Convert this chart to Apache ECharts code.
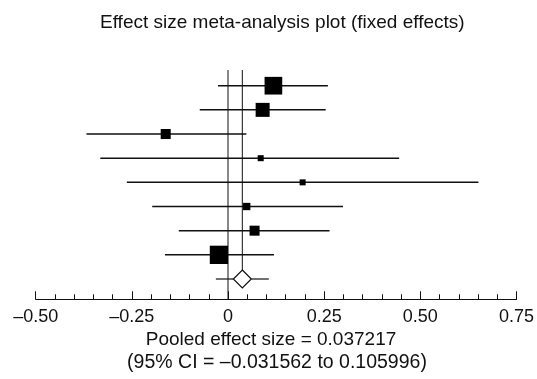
<!DOCTYPE html>
<html>
<head>
<meta charset="utf-8">
<script src="https://cdn.jsdelivr.net/npm/echarts@6/dist/echarts.min.js"></script>
<style>html,body{margin:0;padding:0;background:#fff;}#c{width:537px;height:379px;}</style>
</head>
<body>
<div id="c"></div>
<script>
// Study data, top to bottom
const studyRows = [1, 2, 3, 4, 5, 6, 7, 8];
const estimates = [0.118, 0.090, -0.162, 0.085, 0.194, 0.0486, 0.069, -0.0236];
const lowerCI   = [-0.026, -0.0735, -0.368, -0.332, -0.263, -0.197, -0.128, -0.164];
const upperCI   = [0.2597, 0.254, 0.0478, 0.445, 0.651, 0.299, 0.264, 0.1195];
const weights   = [26.8, 16.8, 8.6, 3.1, 3.1, 4.6, 8.6, 28.7]; // percent, square area
const pooledRow = 9;
const pooledEstimate = 0.037217;
const pooledLower = -0.031562;
const pooledUpper = 0.105996;
const tickLabels = {'-0.5': '–0.50', '-0.25': '–0.25', '0': '0', '0.25': '0.25', '0.5': '0.50', '0.75': '0.75'};

const FONT = 'Liberation Sans';
const Y_MIN = 0.35, Y_MAX = 9.84;
const studyData = studyRows.map((r, i) => [estimates[i], r, lowerCI[i], upperCI[i], weights[i]]);

const chart = echarts.init(document.getElementById('c'), null, {renderer: 'canvas'});
chart.setOption({
  animation: false,
  backgroundColor: '#fff',
  title: {
    text: 'Effect size meta-analysis plot (fixed effects)',
    left: 95, top: 8,
    textStyle: {fontFamily: FONT, fontSize: 19, fontWeight: 'normal', color: '#111'}
  },
  grid: {left: 35.7, right: 20, top: 70, bottom: 79.7},
  xAxis: {
    type: 'value', min: -0.5, max: 0.75, interval: 0.25,
    axisLine: {show: true, onZero: false, lineStyle: {color: '#111', width: 1}},
    axisTick: {show: true, inside: true, length: 8, lineStyle: {color: '#111', width: 1}},
    minorTick: {show: true, splitNumber: 5, length: 5, lineStyle: {color: '#111', width: 1}},
    splitLine: {show: false},
    axisLabel: {
      margin: 9, fontFamily: FONT, fontSize: 18, color: '#111',
      formatter: v => tickLabels[String(Math.round(v * 100) / 100)] ?? String(v)
    }
  },
  yAxis: {type: 'value', inverse: true, min: Y_MIN, max: Y_MAX, show: false, splitLine: {show: false}},
  graphic: [
    {type: 'text', x: 271, y: 330, style: {text: 'Pooled effect size = 0.037217', font: '19px "' + FONT + '"', fill: '#111', textAlign: 'center', textVerticalAlign: 'top'}},
    {type: 'text', x: 277, y: 353, style: {text: '(95% CI = –0.031562 to 0.105996)', font: '19.5px "' + FONT + '"', fill: '#111', textAlign: 'center', textVerticalAlign: 'top'}}
  ],
  series: [
    {
      type: 'line', data: [[0, Y_MIN], [0, Y_MAX]], symbol: 'none',
      lineStyle: {color: '#111', width: 1}, z: 1
    },
    {
      type: 'custom', z: 2,
      data: studyData,
      renderItem: (params, api) => {
        const y = api.value(1);
        const c = api.coord([api.value(0), y]);
        const l = api.coord([api.value(2), y]);
        const h = api.coord([api.value(3), y]);
        const s = 3.416 * Math.sqrt(api.value(4));
        return {type: 'group', children: [
          {type: 'line', shape: {x1: l[0], y1: c[1], x2: h[0], y2: c[1]}, style: {stroke: '#111', lineWidth: 1.5}},
          {type: 'rect', shape: {x: c[0] - s / 2, y: c[1] - s / 2, width: s, height: s}, style: {fill: '#000'}}
        ]};
      }
    },
    {
      type: 'custom', z: 3,
      data: [[pooledEstimate, pooledRow, pooledLower, pooledUpper]],
      renderItem: (params, api) => {
        const y = api.value(1);
        const c = api.coord([api.value(0), y]);
        const top = api.coord([api.value(0), Y_MIN]);
        const l = api.coord([api.value(2), y]);
        const h = api.coord([api.value(3), y]);
        const d = 9;
        return {type: 'group', children: [
          {type: 'line', shape: {x1: c[0], y1: top[1], x2: c[0], y2: c[1] - d}, style: {stroke: '#111', lineWidth: 1}},
          {type: 'line', shape: {x1: l[0], y1: c[1], x2: c[0] - d, y2: c[1]}, style: {stroke: '#111', lineWidth: 1.2}},
          {type: 'line', shape: {x1: c[0] + d, y1: c[1], x2: h[0], y2: c[1]}, style: {stroke: '#111', lineWidth: 1.2}},
          {type: 'polygon', shape: {points: [[c[0], c[1] - d], [c[0] + d, c[1]], [c[0], c[1] + d], [c[0] - d, c[1]]]},
           style: {fill: '#fff', stroke: '#111', lineWidth: 1.2}}
        ]};
      }
    }
  ]
});
</script>
</body>
</html>
